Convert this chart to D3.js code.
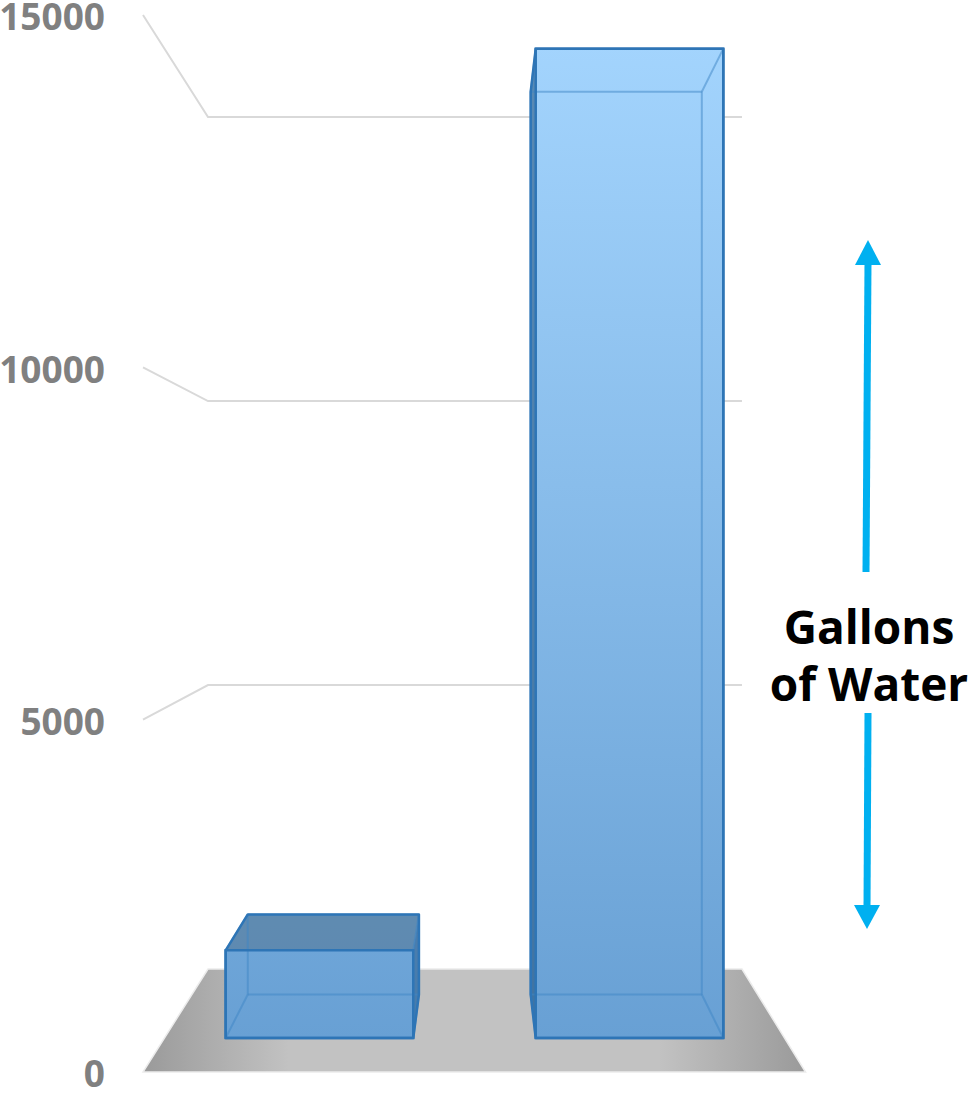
<!DOCTYPE html>
<html lang="en">
  <head>
    <style>
      body { margin: 0; background: #fff; }
      .tick text { font-family: "Open Sans", sans-serif; font-weight: bold; font-size: 37px; fill: #808080; }
      .grid path { fill: none; stroke: #d9d9d9; stroke-width: 2; }
    </style>
  </head>
  <body>
    <svg id="container" width="974" height="1095"></svg>
  </body>
  <script src="https://d3js.org/d3.v7.min.js"></script>
  <script>
// data
const categories = ["Bar 1", "Bar 2"]
const values = [1330, 15000]
const yTicks = [0, 5000, 10000, 15000]
const gridTicks = [5000, 10000, 15000]

let svg = d3.select("#container")

// perspective: everything is laid out on the front plane, then pulled toward vp by k
const vp = {x: 478, y: 541}
const kFloorBack = 0.806
const kBarFront = 0.936
const kBarBack = 0.854

let x = d3.scaleBand().domain(categories).range([143, 805.5]).padding(0)
let y = d3.scaleLinear().domain([0, 15000]).range([1072, 15])
let barWidth = x.bandwidth() * 0.605

function proj(X, Y, k) {
    return [vp.x + (X - vp.x) * k, vp.y + (Y - vp.y) * k]
}

let defs = svg.append("defs")

let floorGrad = defs.append("linearGradient").attr("id", "floorGrad")
floorGrad.append("stop").attr("offset", "0%").attr("stop-color", "#9a9a9a")
floorGrad.append("stop").attr("offset", "22%").attr("stop-color", "#c2c2c2")
floorGrad.append("stop").attr("offset", "78%").attr("stop-color", "#c2c2c2")
floorGrad.append("stop").attr("offset", "100%").attr("stop-color", "#9a9a9a")

let barGrad = defs.append("linearGradient").attr("id", "barGrad")
    .attr("gradientUnits", "userSpaceOnUse")
    .attr("x1", 0).attr("y1", 45).attr("x2", 0).attr("y2", 1040)
barGrad.append("stop").attr("offset", "0%").attr("stop-color", "#a3d4fd")
barGrad.append("stop").attr("offset", "100%").attr("stop-color", "#68a0d4")

// gridlines: side wall + back wall
svg.append("g").attr("class", "grid")
    .selectAll("path")
    .data(gridTicks)
    .enter()
    .append("path")
    .attr("d", d => d3.line()([
        proj(143, y(d), 1),
        proj(143, y(d), kFloorBack),
        proj(805.5, y(d), kFloorBack)
    ]))

// floor
let floorPts = [
    proj(143, y(0), 1), proj(805.5, y(0), 1),
    proj(805.5, y(0), kFloorBack), proj(143, y(0), kFloorBack)
]
svg.append("path")
    .attr("d", d3.line()(floorPts) + "Z")
    .attr("fill", "url(#floorGrad)")
    .attr("stroke", "#ececec")
    .attr("stroke-width", 1.5)

// axis labels
svg.append("g")
    .attr("transform", "translate(105,3)")
    .call(d3.axisLeft(y).tickValues(yTicks).tickSizeInner(0).tickSizeOuter(0).tickPadding(0).tickFormat(d3.format("d")))
    .call(g => g.select(".domain").remove())

// bars
let bars = svg.append("g").attr("class", "bars")
    .selectAll("g")
    .data(categories.map((c, i) => ({name: c, value: values[i]})))
    .enter()
    .append("g")

bars.each(function (d) {
    let g = d3.select(this)
    let X0 = x(d.name) + (x.bandwidth() - barWidth) / 2
    let X1 = X0 + barWidth
    let Yb = y(0), Yt = y(d.value)
    let f = [proj(X0, Yb, kBarFront), proj(X1, Yb, kBarFront), proj(X1, Yt, kBarFront), proj(X0, Yt, kBarFront)]
    let b = [proj(X0, Yb, kBarBack), proj(X1, Yb, kBarBack), proj(X1, Yt, kBarBack), proj(X0, Yt, kBarBack)]
    let line = d3.line()

    let hull = d3.polygonHull(f.concat(b))
    g.append("path")
        .attr("d", line(hull) + "Z")
        .attr("fill", "url(#barGrad)")

    // side face
    if (X1 < vp.x) {
        g.append("path").attr("d", line([f[1], b[1], b[2], f[2]]) + "Z")
            .attr("fill", "#1f4e79").attr("fill-opacity", 0.45)
    }
    if (X0 > vp.x) {
        g.append("path").attr("d", line([f[0], b[0], b[3], f[3]]) + "Z")
            .attr("fill", "#1f4e79").attr("fill-opacity", 0.55)
    }
    // top face seen from above
    if (Yt > vp.y) {
        g.append("path").attr("d", line([f[3], f[2], b[2], b[3]]) + "Z")
            .attr("fill", "#507089").attr("fill-opacity", 0.5)
    }

    // inner edges
    let edges = [
        [b[0], b[1]], [b[1], b[2]], [b[2], b[3]], [b[3], b[0]],
        [f[0], b[0]], [f[1], b[1]], [f[2], b[2]], [f[3], b[3]]
    ]
    g.append("g").selectAll("path")
        .data(edges)
        .enter()
        .append("path")
        .attr("d", e => line(e))
        .attr("stroke", "#3d85c6")
        .attr("stroke-opacity", 0.5)
        .attr("stroke-width", 2)
        .attr("fill", "none")

    // outline
    g.append("path").attr("d", line(hull) + "Z")
        .attr("fill", "none").attr("stroke", "#2e75b6").attr("stroke-width", 2.5)
        .attr("stroke-linejoin", "round")
    g.append("path").attr("d", line(f) + "Z")
        .attr("fill", "none").attr("stroke", "#2e75b6").attr("stroke-width", 2.5)
})

// annotation
let note = svg.append("g")
note.append("text")
    .attr("x", 869).attr("y", 644)
    .attr("text-anchor", "middle")
    .style("font-family", "'Open Sans', sans-serif")
    .style("font-weight", "bold")
    .style("font-size", "46px")
    .text("Gallons")
note.append("text")
    .attr("x", 869).attr("y", 701)
    .attr("text-anchor", "middle")
    .style("font-family", "'Open Sans', sans-serif")
    .style("font-weight", "bold")
    .style("font-size", "46px")
    .text("of Water")

note.append("line")
    .attr("x1", 866).attr("y1", 572).attr("x2", 868).attr("y2", 262)
    .attr("stroke", "#00b0f0").attr("stroke-width", 7)
note.append("path")
    .attr("d", "M868,240 L881,265 L855,265 Z")
    .attr("fill", "#00b0f0")
note.append("line")
    .attr("x1", 868).attr("y1", 713).attr("x2", 867).attr("y2", 908)
    .attr("stroke", "#00b0f0").attr("stroke-width", 7)
note.append("path")
    .attr("d", "M867,929 L880,905 L854,905 Z")
    .attr("fill", "#00b0f0")
  </script>
</html>
